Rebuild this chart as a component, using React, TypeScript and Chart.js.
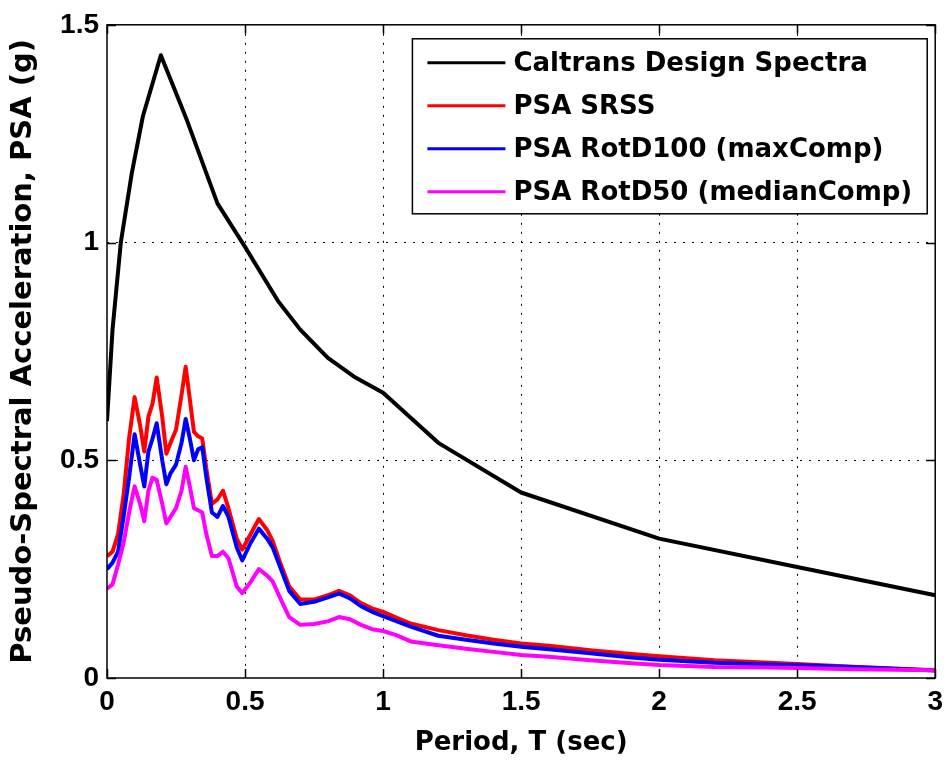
import React, { useEffect, useRef } from "react";
import { Chart, registerables } from "chart.js";

Chart.register(...registerables);

// Caltrans design spectrum (period in sec, PSA in g)
const designPeriods = [0, 0.02, 0.05, 0.09, 0.13, 0.195, 0.29, 0.4, 0.5, 0.62, 0.7, 0.8, 0.9, 1.0, 1.2, 1.5, 2.0, 2.5, 3.0];
const designPSA = [0.59, 0.8, 1.0, 1.16, 1.29, 1.43, 1.28, 1.09, 0.99, 0.865, 0.8, 0.735, 0.69, 0.655, 0.54, 0.426, 0.32, 0.255, 0.19];

// Periods shared by the recorded spectra
const periods = [0, 0.02, 0.04, 0.06, 0.08, 0.1, 0.12, 0.135, 0.15, 0.165, 0.18, 0.2, 0.215, 0.23, 0.25, 0.27, 0.285, 0.3, 0.315, 0.33, 0.345, 0.36, 0.38, 0.4, 0.42, 0.44, 0.47, 0.49, 0.52, 0.55, 0.58, 0.6, 0.63, 0.66, 0.7, 0.75, 0.8, 0.84, 0.88, 0.92, 0.96, 1.0, 1.05, 1.1, 1.2, 1.3, 1.4, 1.5, 1.6, 1.75, 1.9, 2.0, 2.2, 2.4, 2.5, 2.7, 2.85, 3.0];

const psaSRSS = [0.28, 0.29, 0.33, 0.42, 0.55, 0.645, 0.58, 0.52, 0.6, 0.63, 0.69, 0.6, 0.515, 0.54, 0.57, 0.65, 0.715, 0.64, 0.565, 0.555, 0.55, 0.48, 0.4, 0.41, 0.43, 0.39, 0.32, 0.295, 0.33, 0.365, 0.34, 0.315, 0.26, 0.21, 0.18, 0.18, 0.19, 0.2, 0.19, 0.172, 0.16, 0.152, 0.138, 0.125, 0.11, 0.098, 0.088, 0.079, 0.074, 0.064, 0.055, 0.05, 0.041, 0.035, 0.032, 0.026, 0.022, 0.018];

const psaRotD100 = [0.25, 0.265, 0.29, 0.37, 0.46, 0.56, 0.49, 0.44, 0.52, 0.55, 0.585, 0.5, 0.445, 0.47, 0.49, 0.54, 0.595, 0.55, 0.5, 0.525, 0.53, 0.46, 0.38, 0.37, 0.395, 0.37, 0.3, 0.27, 0.31, 0.343, 0.32, 0.3, 0.25, 0.2, 0.17, 0.175, 0.185, 0.194, 0.183, 0.165, 0.152, 0.142, 0.13, 0.118, 0.097, 0.088, 0.079, 0.072, 0.066, 0.057, 0.047, 0.042, 0.035, 0.031, 0.029, 0.025, 0.021, 0.017];

const psaRotD50 = [0.205, 0.215, 0.26, 0.31, 0.38, 0.44, 0.4, 0.36, 0.43, 0.46, 0.455, 0.4, 0.355, 0.37, 0.39, 0.43, 0.485, 0.44, 0.39, 0.385, 0.38, 0.33, 0.28, 0.28, 0.29, 0.275, 0.21, 0.195, 0.22, 0.25, 0.235, 0.222, 0.18, 0.14, 0.122, 0.124, 0.13, 0.14, 0.135, 0.122, 0.112, 0.108, 0.098, 0.084, 0.075, 0.067, 0.06, 0.053, 0.049, 0.041, 0.034, 0.03, 0.025, 0.024, 0.023, 0.02, 0.019, 0.018];

const seriesLabels = [
  "Caltrans Design Spectra",
  "PSA SRSS",
  "PSA RotD100 (maxComp)",
  "PSA RotD50 (medianComp)",
];
const seriesColors = ["#000000", "#ff0000", "#0000ff", "#ff00ff"];

const xTickLabels = ["0", "0.5", "1", "1.5", "2", "2.5", "3"];
const yTickLabels = ["0", "0.5", "1", "1.5"];

const xTitle = "Period, T (sec)";
const yTitle = "Pseudo-Spectral Acceleration, PSA (g)";

const toXY = (xs: number[], ys: number[]) => xs.map((x, i) => ({ x, y: ys[i] }));

const frameLegendPlugin = {
  id: "frameLegend",
  afterDraw(chart: any) {
    const { ctx, chartArea: a, scales } = chart;
    ctx.save();
    // frame
    ctx.strokeStyle = "#000";
    ctx.lineWidth = 1.5;
    ctx.strokeRect(a.left, a.top, a.right - a.left, a.bottom - a.top);
    // inward tick marks
    const tl = 9;
    ctx.beginPath();
    scales.x.ticks.forEach((t: any) => {
      const px = Math.round(scales.x.getPixelForValue(t.value)) + 0.5;
      ctx.moveTo(px, a.bottom);
      ctx.lineTo(px, a.bottom - tl);
      ctx.moveTo(px, a.top);
      ctx.lineTo(px, a.top + tl);
    });
    scales.y.ticks.forEach((t: any) => {
      const py = Math.round(scales.y.getPixelForValue(t.value)) + 0.5;
      ctx.moveTo(a.left, py);
      ctx.lineTo(a.left + tl, py);
      ctx.moveTo(a.right, py);
      ctx.lineTo(a.right - tl, py);
    });
    ctx.lineWidth = 1.5;
    ctx.stroke();

    // legend
    ctx.font = "bold 26px 'DejaVu Sans'";
    const maxW = Math.max(...seriesLabels.map((l) => ctx.measureText(l).width));
    const padL = 15, lineLen = 78, gap = 8, padR = 15;
    const boxW = padL + lineLen + gap + maxW + padR;
    const boxH = 175;
    const right = a.right - 8;
    const left = right - boxW;
    const top = a.top + 14;
    ctx.fillStyle = "#fff";
    ctx.fillRect(left, top, boxW, boxH);
    ctx.lineWidth = 1.5;
    ctx.strokeStyle = "#000";
    ctx.strokeRect(left, top, boxW, boxH);
    ctx.textBaseline = "middle";
    ctx.textAlign = "left";
    seriesLabels.forEach((label, i) => {
      const y = top + 24 + i * 43;
      ctx.strokeStyle = seriesColors[i];
      ctx.lineWidth = 3;
      ctx.beginPath();
      ctx.moveTo(left + padL, y);
      ctx.lineTo(left + padL + lineLen, y);
      ctx.stroke();
      ctx.fillStyle = "#000";
      ctx.fillText(label, left + padL + lineLen + gap, y + 1);
    });
    ctx.restore();
  },
};

export default function App() {
  const canvasRef = useRef<HTMLCanvasElement | null>(null);

  useEffect(() => {
    const canvas = canvasRef.current;
    if (!canvas) return;
    const gridColor = (c: any) => {
      const v = c.tick ? c.tick.value : null;
      const sc = c.scale;
      if (v === null || v === sc.min || v === sc.max) return "rgba(0,0,0,0)";
      return "#000";
    };
    const chart = new Chart(canvas, {
      type: "line",
      data: {
        datasets: [
          { label: seriesLabels[0], data: toXY(designPeriods, designPSA), borderColor: seriesColors[0], order: 4 },
          { label: seriesLabels[1], data: toXY(periods, psaSRSS), borderColor: seriesColors[1], order: 3 },
          { label: seriesLabels[2], data: toXY(periods, psaRotD100), borderColor: seriesColors[2], order: 2 },
          { label: seriesLabels[3], data: toXY(periods, psaRotD50), borderColor: seriesColors[3], order: 1 },
        ].map((d) => ({
          ...d,
          borderWidth: 4,
          pointRadius: 0,
          tension: 0,
          fill: false,
          borderJoinStyle: "round" as const,
        })),
      },
      options: {
        animation: false,
        responsive: false,
        maintainAspectRatio: false,
        layout: { padding: { left: 0, top: 22, right: 10, bottom: 0 } },
        plugins: { legend: { display: false }, tooltip: { enabled: false }, title: { display: false } },
        scales: {
          x: {
            type: "linear",
            min: 0,
            max: 3,
            afterFit: (s: any) => { s.height = 82; },
            ticks: {
              stepSize: 0.5,
              padding: 7,
              color: "#000",
              font: { family: "'Liberation Sans'", size: 28, weight: "bold" },
              callback: (_v: any, i: number) => xTickLabels[i],
              maxRotation: 0,
            },
            grid: { color: gridColor, lineWidth: 1, drawTicks: false },
            border: { display: false, dash: [2, 7] },
            title: {
              display: true,
              text: xTitle,
              color: "#000",
              font: { family: "'DejaVu Sans'", size: 26, weight: "bold" },
              padding: { top: 0, bottom: 1 },
            },
          },
          y: {
            type: "linear",
            min: 0,
            max: 1.5,
            afterFit: (s: any) => { s.width = 107; },
            ticks: {
              stepSize: 0.5,
              padding: 8,
              color: "#000",
              font: { family: "'Liberation Sans'", size: 28, weight: "bold" },
              callback: (_v: any, i: number) => yTickLabels[i],
            },
            grid: { color: gridColor, lineWidth: 1, drawTicks: false },
            border: { display: false, dash: [2, 7] },
            title: {
              display: true,
              text: yTitle,
              color: "#000",
              font: { family: "'DejaVu Sans'", size: 29, weight: "bold" },
              padding: { top: 6, bottom: 0 },
            },
          },
        },
      },
      plugins: [frameLegendPlugin],
    });
    return () => chart.destroy();
  }, []);

  return (
    <div style={{ position: "absolute", left: 0, top: 0, width: 950, height: 760, background: "#fff" }}>
      <canvas ref={canvasRef} width={950} height={760} style={{ width: 950, height: 760, display: "block" }} />
    </div>
  );
}
